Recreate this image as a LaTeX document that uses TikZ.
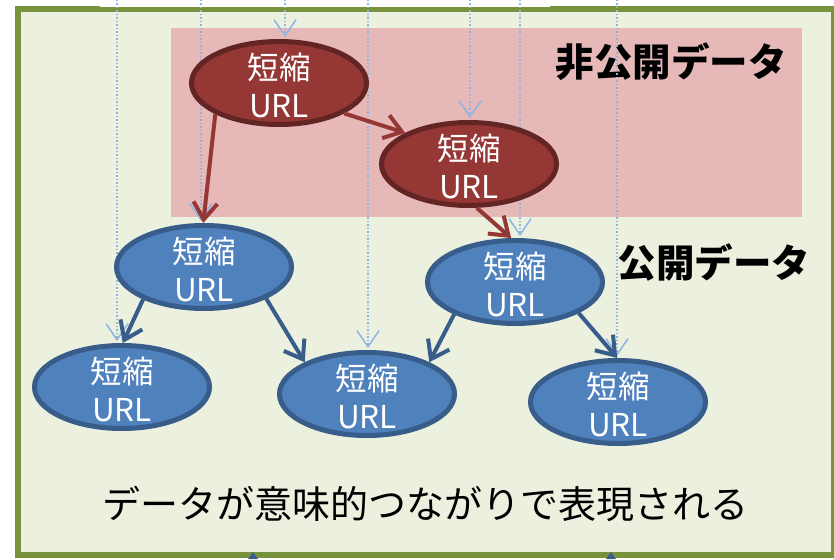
\documentclass[tikz,border=0pt]{standalone}
\usepackage{fontspec}
\newfontfamily\jp{Noto Sans CJK JP}
\usetikzlibrary{shapes.geometric,arrows.meta}
\pgfdeclarelayer{back}
\pgfdeclarelayer{mid}
\pgfsetlayers{back,mid,main}
\definecolor{frameFill}{HTML}{EBF1DE}
\definecolor{frameLine}{HTML}{77933C}
\definecolor{pinkBox}{HTML}{E6B9B8}
\definecolor{redFill}{HTML}{953735}
\definecolor{redLine}{HTML}{632523}
\definecolor{blueFill}{HTML}{4F81BD}
\definecolor{blueLine}{HTML}{385D8A}
\definecolor{dotBlue}{HTML}{8EB4E3}
\tikzset{
  urlnode/.style={ellipse, line width=5pt, minimum width=175pt, minimum height=83pt, inner sep=0pt},
  rnode/.style={urlnode, fill=redFill, draw=redLine},
  bnode/.style={urlnode, fill=blueFill, draw=blueLine},
  ntext/.style={text=white, font=\jp\fontsize{31.5}{38}\selectfont, align=center, inner sep=0pt, yshift=-2pt},
  lbl/.style={font=\jp\bfseries\fontsize{38.5}{44}\selectfont, inner sep=0pt},
  btxt/.style={font=\jp\fontsize{38}{44}\selectfont, inner sep=0pt},
  dotarr/.style={dotBlue, line width=1.5pt, dash pattern=on 1.5pt off 2pt, shorten >=2pt, -{Straight Barb[length=16pt,width=22pt]}},
  redarr/.style={redFill, line width=4pt, -{Straight Barb[length=17pt,width=24pt]}},
  bluearr/.style={blueLine, line width=4pt, -{Straight Barb[length=17pt,width=24pt]}}
}
\begin{document}
\begin{tikzpicture}[x=1pt,y=-1pt]
\useasboundingbox (0,0) rectangle (834,559);
% nodes
\node[rnode] (r1) at (279,83) {};
\node[rnode] (r2) at (469,164) {};
\node[bnode] (bA) at (204,267) {};
\node[bnode] (bB) at (122,387) {};
\node[bnode] (bC) at (367,394) {};
\node[bnode] (bD) at (515,282) {};
\node[bnode] (bE) at (618,402) {};
\node[ntext] (t1) at (r1) {短縮\\URL};
\node[ntext] (t2) at (r2) {短縮\\URL};
\node[ntext] (tA) at (bA) {短縮\\URL};
\node[ntext] (tB) at (bB) {短縮\\URL};
\node[ntext] (tC) at (bC) {短縮\\URL};
\node[ntext] (tD) at (bD) {短縮\\URL};
\node[ntext] (tE) at (bE) {短縮\\URL};
% background: frame, private area, labels
\begin{pgfonlayer}{back}
\draw[fill=frameFill, draw=frameLine, line width=6pt] (18,9) rectangle (834,555);
\fill[white] (100,0) rectangle (550,7);
\fill[pinkBox] (171,28) rectangle (802,217);
\end{pgfonlayer}
% dotted lines from above
\coordinate (d1) at (117,0);
\coordinate (d2) at (201,0);
\coordinate (d3) at (285,0);
\coordinate (d4) at (368,0);
\coordinate (d5) at (470,0);
\coordinate (d6) at (520,0);
\coordinate (d7) at (617,0);
\begin{pgfonlayer}{mid}
\node[lbl] (lp) at (671,62) {非公開データ};
\node[lbl] (lq) at (714,263) {公開データ};
\node[btxt] (bt) at (425,504) {データが意味的つながりで表現される};
\draw[dotarr] (d1) -- (d1 |- bB.north);
\draw[dotarr] (d2) -- (d2 |- bA.north);
\draw[dotarr] (d3) -- (d3 |- r1.north);
\draw[dotarr] (d4) -- (d4 |- bC.north);
\draw[dotarr] (d5) -- (d5 |- r2.north);
\draw[dotarr] (d6) -- (d6 |- bD.north);
\draw[dotarr] (d7) -- (d7 |- bE.north);
\end{pgfonlayer}
% connectors
\draw[redarr] (r1.206) -- (bA.91);
\draw[redarr] (r1.335) -- (r2.154);
\draw[redarr] (r2.280) -- (bD.95);
\draw[bluearr] (bA.208) -- (bB.89);
\draw[bluearr] (bA.333) -- (bC.153);
\draw[bluearr] (bD.208) -- (bC.27);
\draw[bluearr] (bD.334) -- (bE.91);
% arrow tips peeking at the bottom edge
\fill[blueLine] (248,559) -- (253,552) -- (258,559) -- cycle;
\fill[blueLine] (606,559) -- (611,552) -- (616,559) -- cycle;
\end{tikzpicture}
\end{document}
